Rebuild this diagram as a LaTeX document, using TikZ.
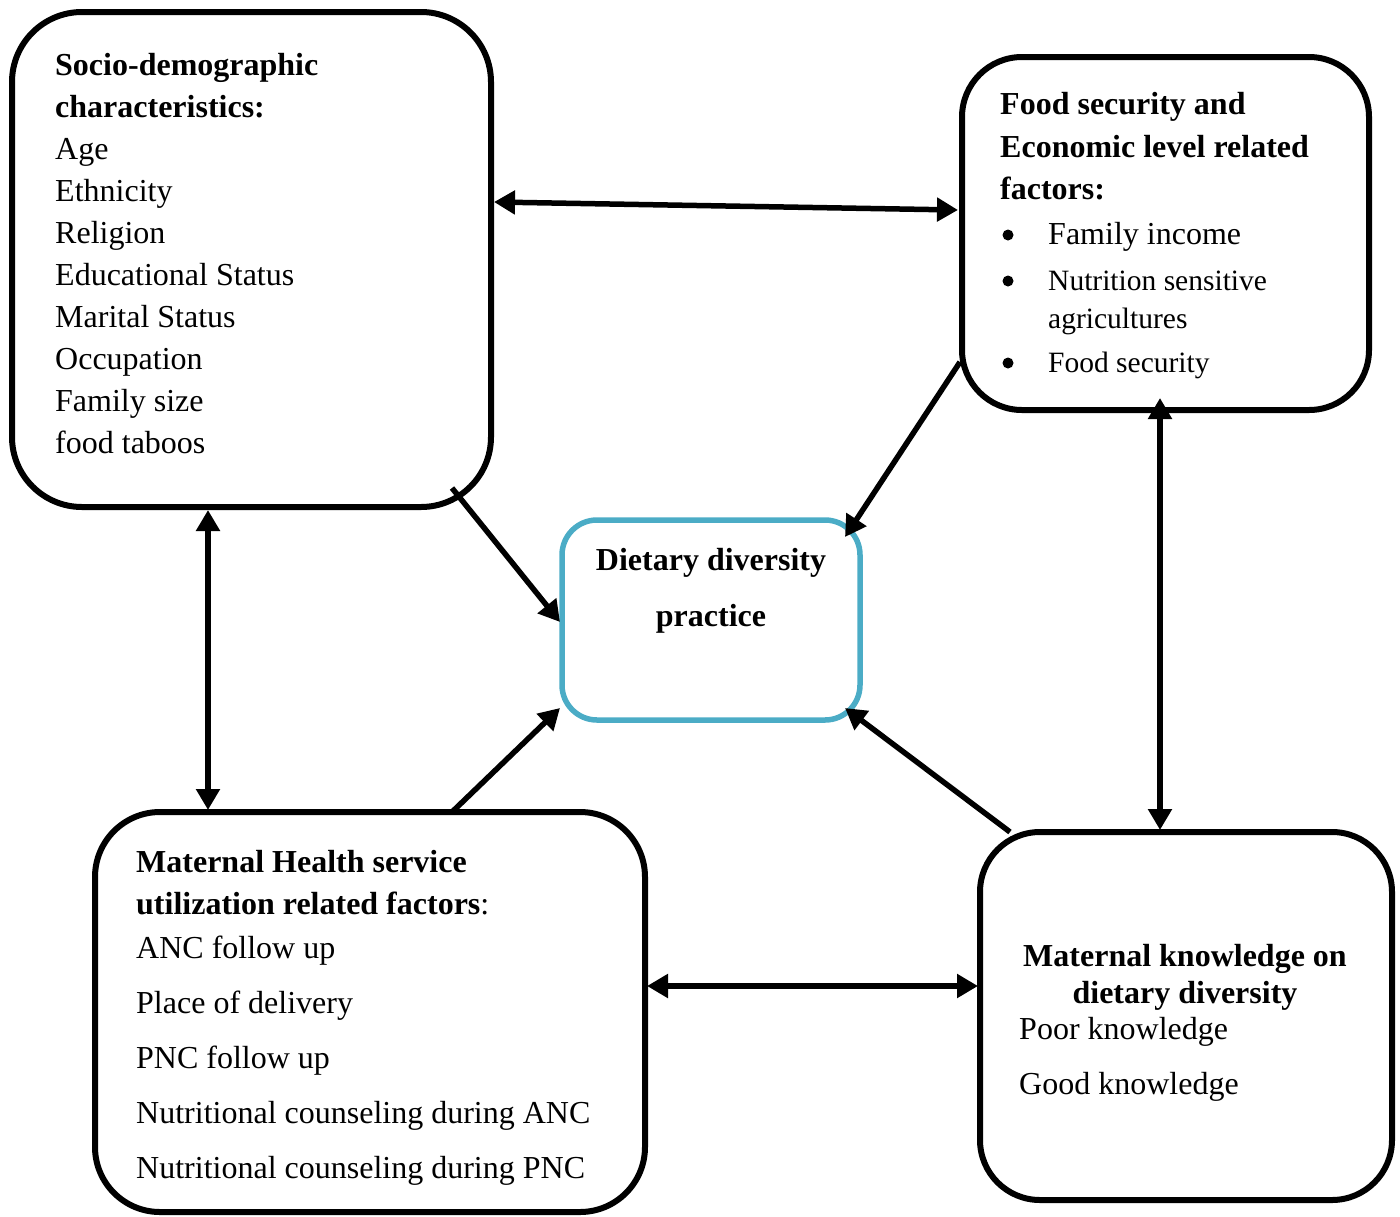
\documentclass[tikz,border=0pt]{standalone}
\usepackage{fontspec}
\setmainfont{Liberation Serif}
\usetikzlibrary{arrows.meta}
\definecolor{dietblue}{HTML}{4BACC6}
\begin{document}
\begin{tikzpicture}[x=1pt,y=-1pt,
  box/.style={draw=black, line width=6pt, rounded corners=#1, inner sep=0pt, outer sep=0pt},
  txt/.style={anchor=base west, inner sep=0pt, font=\fontsize{32}{36}\selectfont},
  stxt/.style={anchor=base west, inner sep=0pt, font=\fontsize{29.5}{34}\selectfont},
  ctxt/.style={anchor=base, inner sep=0pt, font=\fontsize{32}{36}\selectfont\bfseries},
  bul/.style={circle, fill=black, inner sep=0pt, minimum size=11pt},
  conn/.style={line width=5.5pt, draw=black},
  tip/.tip={Triangle[length=21pt,width=23pt]}]
\useasboundingbox (0,0) rectangle (1400,1216);
% boxes
\node[box=70pt, minimum width=479pt, minimum height=495pt] (tl) at (251.5,259.5) {};
\node[box=60pt, minimum width=407pt, minimum height=353pt] (tr) at (1165.5,233.5) {};
\node[box=65pt, minimum width=550pt, minimum height=400pt] (bl) at (370,1012) {};
\node[box=60pt, minimum width=412pt, minimum height=368pt] (br) at (1186,1016) {};
\node[box=35pt, draw=dietblue, line width=5.5pt, minimum width=298pt, minimum height=200pt] (c) at (711,620) {};
% top-left text
\node[txt] (tl1) at (55,75) {\textbf{Socio-demographic}};
\node[txt] (tl2) at (55,117) {\textbf{characteristics:}};
\foreach \t [count=\i] in {Age,Ethnicity,Religion,Educational Status,Marital Status,Occupation,Family size,food taboos}
  \node[txt] (tli\i) at (55,117+42*\i) {\t};
% top-right text
\node[txt] (tr1) at (1000,114) {\textbf{Food security and}};
\node[txt] (tr2) at (1000,157) {\textbf{Economic level related}};
\node[txt] (tr3) at (1000,199) {\textbf{factors:}};
\node[bul] (trb1) at (1008,235) {};
\node[txt] (tri1) at (1048,244) {Family income};
\node[bul] (trb2) at (1008,281) {};
\node[stxt] (tri2) at (1048,290) {Nutrition sensitive};
\node[stxt] (tri3) at (1048,328) {agricultures};
\node[bul] (trb3) at (1008,363) {};
\node[stxt] (tri4) at (1048,372) {Food security};
% center text
\node[ctxt] (c1) at (711,570) {Dietary diversity};
\node[ctxt] (c2) at (711,626) {practice};
% bottom-left text
\node[txt] (bl1) at (136,872) {\textbf{Maternal Health service}};
\node[txt] (bl2) at (136,914) {\textbf{utilization related factors}:};
\foreach \t [count=\i] in {ANC follow up,Place of delivery,PNC follow up,Nutritional counseling during ANC,Nutritional counseling during PNC}
  \node[txt] (bli\i) at (136,903+55*\i) {\t};
% bottom-right text
\node[ctxt] (br1) at (1185,966) {Maternal knowledge on};
\node[ctxt] (br2) at (1185,1003) {dietary diversity};
\node[txt] (br3) at (1019,1039) {Poor knowledge};
\node[txt] (br4) at (1019,1094) {Good knowledge};
% connector end points
\coordinate (a1s) at (494,202);
\coordinate (a1e) at (958,210);
\coordinate (a2s) at (208,510);
\coordinate (a2e) at (208,810);
\coordinate (a3s) at (1160,398);
\coordinate (a3e) at (1160,830);
\coordinate (a4s) at (647,986);
\coordinate (a4e) at (978,986);
\coordinate (a5s) at (452,488);
\coordinate (a5e) at (560,622);
\coordinate (a6s) at (960,362);
\coordinate (a6e) at (845,537);
\coordinate (a7s) at (452,812);
\coordinate (a7e) at (560,708);
\coordinate (a8s) at (1010,832);
\coordinate (a8e) at (845,708);
% connectors
\draw[conn, {tip}-{tip}] (a1s) -- (a1e);
\draw[conn, {tip}-{tip}] (a2s) -- (a2e);
\draw[conn, {tip}-{tip}] (a3s) -- (a3e);
\draw[conn, {tip}-{tip}] (a4s) -- (a4e);
\draw[conn, -{tip}] (a5s) -- (a5e);
\draw[conn, -{tip}] (a6s) -- (a6e);
\draw[conn, -{tip}] (a7s) -- (a7e);
\draw[conn, -{tip}] (a8s) -- (a8e);
\end{tikzpicture}
\end{document}
